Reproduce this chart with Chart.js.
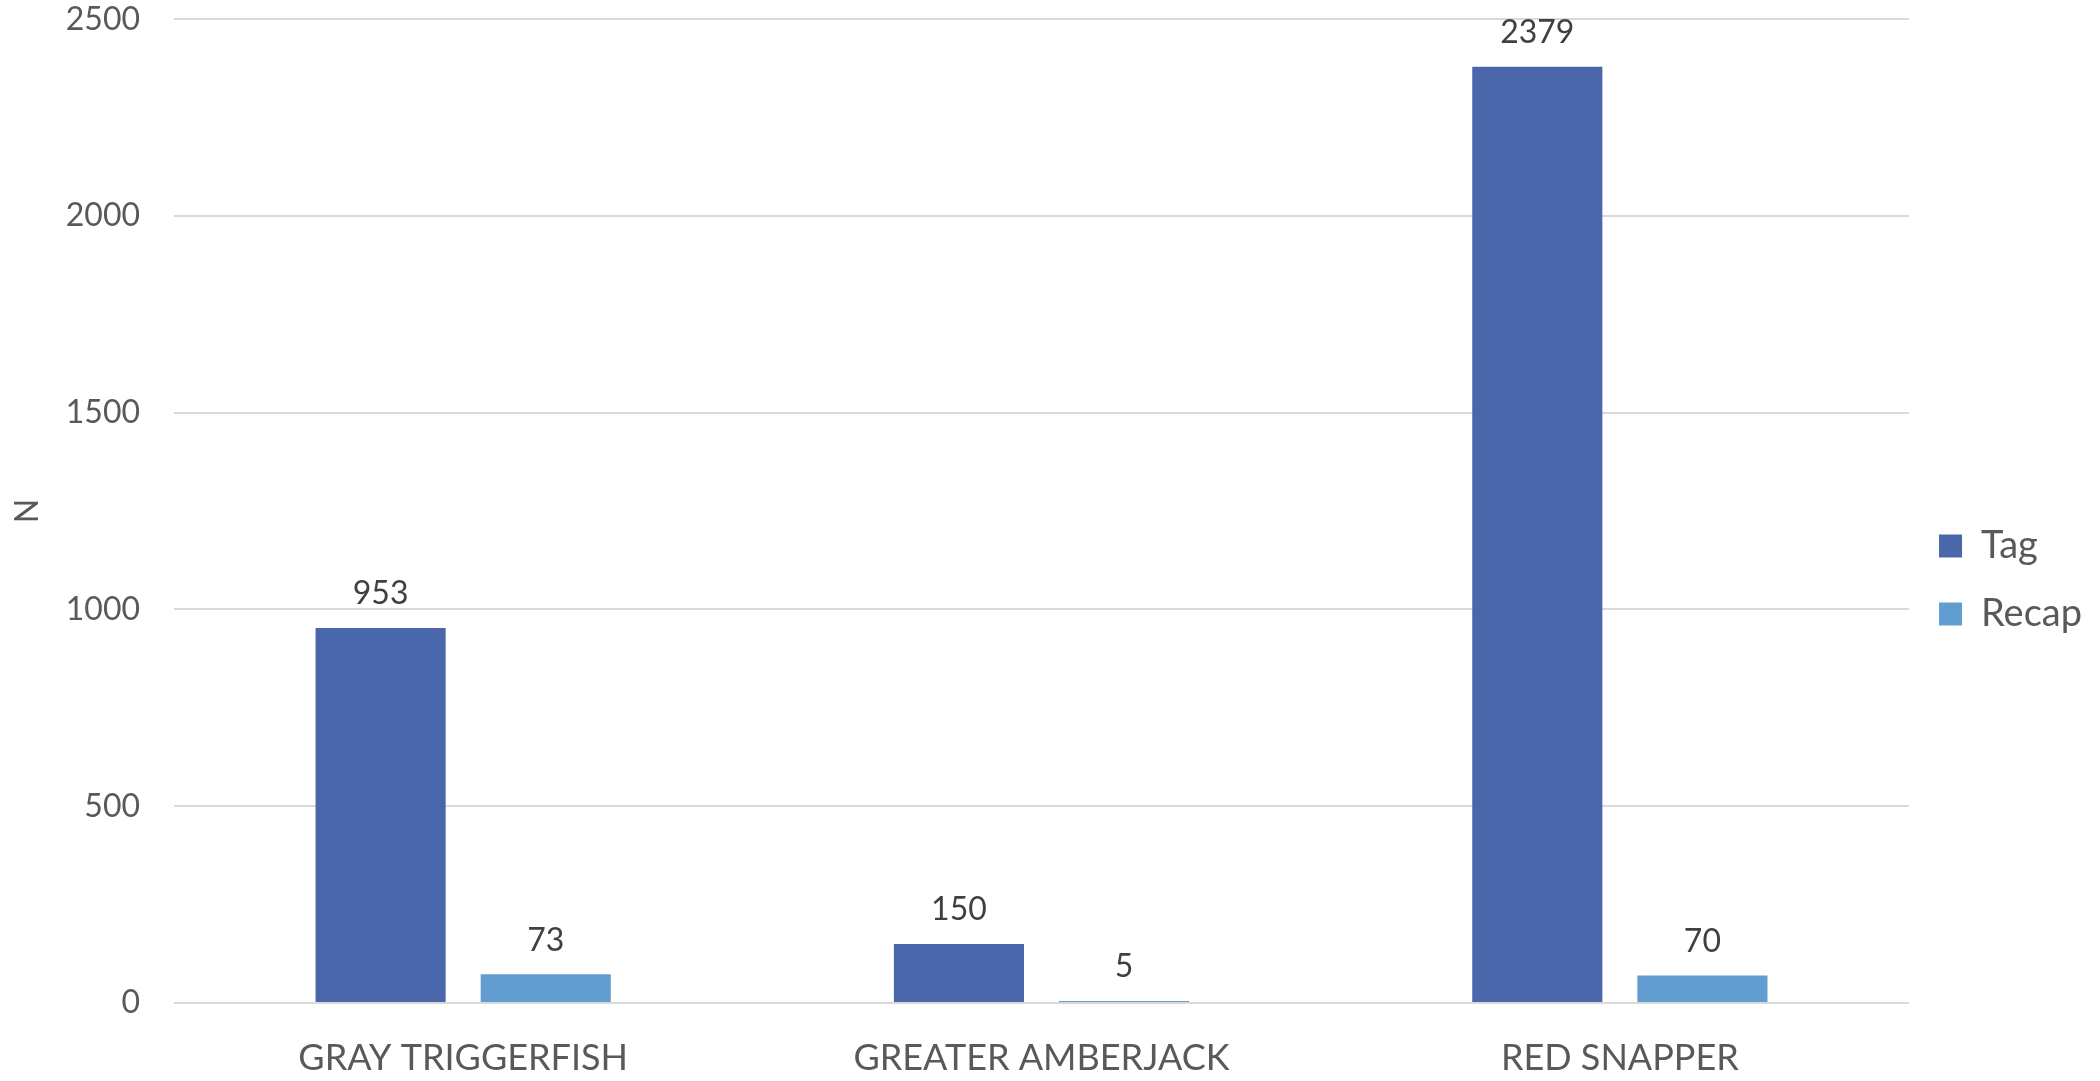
<!DOCTYPE html>
<html>
<head>
<meta charset="utf-8">
<script src="https://cdn.jsdelivr.net/npm/chart.js@4"></script>
<style>
  html, body { margin: 0; padding: 0; background: #fff; }
  #wrap { width: 2100px; height: 1081px; position: relative; }
</style>
</head>
<body>
<div id="wrap"><canvas id="cvs"></canvas></div>
<script>
'use strict'
var species = ['GRAY TRIGGERFISH', 'GREATER AMBERJACK', 'RED SNAPPER']
var tagCounts = [953, 150, 2379]
var recapCounts = [73, 5, 70]
var yTicks = [0, 500, 1000, 1500, 2000, 2500]

var FONT = 'Lato, "Open Sans", sans-serif'

// value labels above each bar, placed from the bar elements
var barLabels = {
  id: 'barLabels',
  afterDatasetsDraw: function (chart) {
    var ctx = chart.ctx
    ctx.save()
    ctx.font = '32px ' + FONT
    ctx.fillStyle = '#404040'
    ctx.textAlign = 'center'
    ctx.textBaseline = 'middle'
    chart.data.datasets.forEach(function (ds, i) {
      chart.getDatasetMeta(i).data.forEach(function (bar, j) {
        ctx.fillText(String(ds.data[j]), bar.x, bar.y - 34)
      })
    })
    ctx.restore()
  },
}

new Chart(document.getElementById('cvs'), {
  type: 'bar',
  data: {
    labels: species,
    datasets: [
      { label: 'Tag', data: tagCounts, backgroundColor: '#4A67AC' },
      { label: 'Recap', data: recapCounts, backgroundColor: '#629DD1' },
    ],
  },
  options: {
    responsive: true,
    maintainAspectRatio: false,
    animation: false,
    layout: { padding: { top: 0, right: 8, bottom: 1, left: 0 } },
    datasets: {
      bar: { categoryPercentage: 0.571, barPercentage: 0.788 },
    },
    plugins: {
      tooltip: { enabled: false },
      legend: {
        position: 'right',
        title: { display: true, text: '', padding: { top: 70, bottom: 0 }, font: { size: 10, lineHeight: 1 } },
        labels: {
          boxWidth: 23,
          boxHeight: 23,
          padding: 30,
          color: '#595959',
          font: { family: FONT, size: 38 },
        },
      },
    },
    scales: {
      x: {
        afterFit: function (scale) { scale.height = 77 },
        grid: { display: false, drawTicks: false },
        border: { display: false },
        ticks: { color: '#595959', padding: 34, font: { family: FONT, size: 36 } },
      },
      y: {
        min: 0,
        max: 2500,
        afterBuildTicks: function (scale) {
          scale.ticks = yTicks.map(function (v) { return { value: v } })
        },
        afterFit: function (scale) { scale.width = 174 },
        grid: { color: '#D9D9D9', lineWidth: 2, drawTicks: true, tickLength: 34, tickColor: 'rgba(0,0,0,0)' },
        border: { display: false },
        ticks: {
          color: '#595959',
          padding: 0,
          font: { family: FONT, size: 32 },
          callback: function (v) { return String(v) },
        },
        title: { display: true, text: 'N', color: '#595959', font: { family: FONT, size: 32 }, padding: { top: 8, bottom: 0 } },
      },
    },
  },
  plugins: [barLabels],
})
</script>
</body>
</html>
